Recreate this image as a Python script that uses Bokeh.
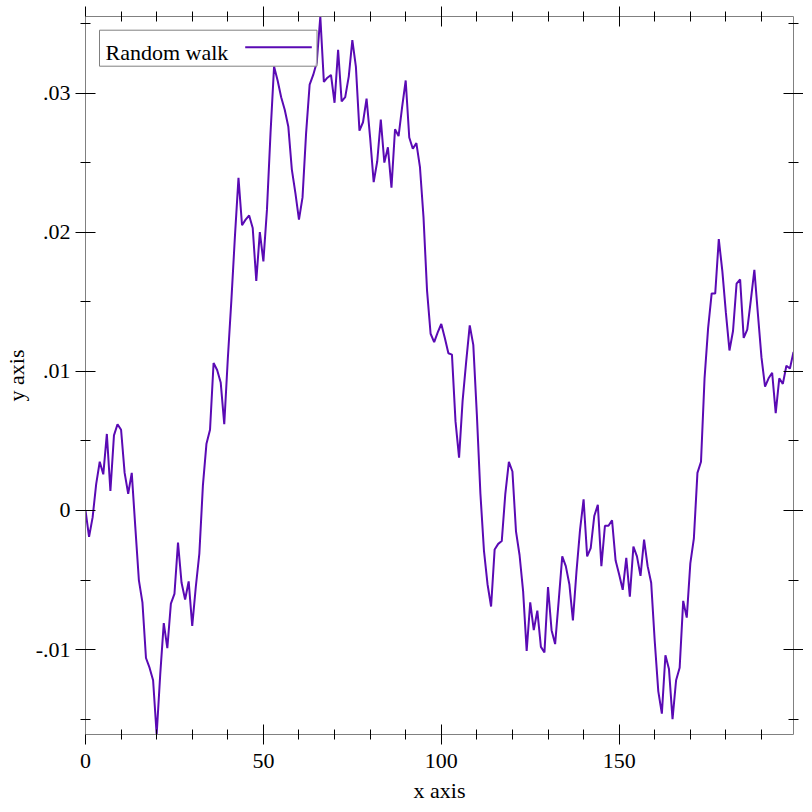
from bokeh.plotting import figure
from bokeh.models import (Range1d, LinearAxis, FixedTicker, CustomJSTickFormatter,
                          BoxAnnotation, Label, Arrow)
from bokeh.embed import file_html
from bokeh.resources import INLINE

# ---- data ----
steps = list(range(200))
walk = [
    0.0000, -0.0019, -0.0005, 0.0019, 0.0035, 0.0026, 0.0055, 0.0014, 0.0054, 0.0062,
    0.0058, 0.0027, 0.0012, 0.0027, -0.0012, -0.0050, -0.0066, -0.0106, -0.0113, -0.0122,
    -0.0161, -0.0118, -0.0081, -0.0099, -0.0067, -0.0060, -0.0023, -0.0052, -0.0064, -0.0051,
    -0.0083, -0.0055, -0.0031, 0.0018, 0.0048, 0.0058, 0.0106, 0.0101, 0.0092, 0.0062,
    0.0109, 0.0151, 0.0197, 0.0239, 0.0205, 0.0209, 0.0212, 0.0203, 0.0165, 0.0200,
    0.0179, 0.0216, 0.0271, 0.0319, 0.0309, 0.0297, 0.0288, 0.0276, 0.0245, 0.0228,
    0.0209, 0.0225, 0.0271, 0.0306, 0.0313, 0.0322, 0.0355, 0.0308, 0.0311, 0.0313,
    0.0293, 0.0331, 0.0294, 0.0297, 0.0312, 0.0338, 0.0319, 0.0273, 0.0279, 0.0296,
    0.0268, 0.0236, 0.0251, 0.0281, 0.0250, 0.0261, 0.0232, 0.0274, 0.0269, 0.0290,
    0.0309, 0.0268, 0.0260, 0.0264, 0.0247, 0.0211, 0.0158, 0.0127, 0.0121, 0.0128,
    0.0134, 0.0124, 0.0113, 0.0112, 0.0064, 0.0038, 0.0079, 0.0107, 0.0133, 0.0119,
    0.0069, 0.0012, -0.0029, -0.0053, -0.0069, -0.0028, -0.0024, -0.0022, 0.0012, 0.0035,
    0.0028, -0.0015, -0.0032, -0.0058, -0.0101, -0.0066, -0.0086, -0.0072, -0.0098, -0.0102,
    -0.0055, -0.0086, -0.0096, -0.0065, -0.0033, -0.0040, -0.0053, -0.0079, -0.0044, -0.0014,
    0.0008, -0.0033, -0.0027, -0.0004, 0.0004, -0.0040, -0.0011, -0.0011, -0.0007, -0.0036,
    -0.0046, -0.0057, -0.0034, -0.0062, -0.0026, -0.0033, -0.0047, -0.0021, -0.0040, -0.0052,
    -0.0094, -0.0130, -0.0146, -0.0104, -0.0114, -0.0150, -0.0122, -0.0113, -0.0065, -0.0077,
    -0.0038, -0.0020, 0.0027, 0.0035, 0.0095, 0.0131, 0.0156, 0.0156, 0.0195, 0.0172,
    0.0142, 0.0115, 0.0129, 0.0163, 0.0166, 0.0124, 0.0130, 0.0151, 0.0173, 0.0141,
    0.0110, 0.0089, 0.0095, 0.0099, 0.0070, 0.0095, 0.0091, 0.0104, 0.0102, 0.0114,
]
x_major_ticks = [0, 50, 100, 150]
x_minor_ticks = [10, 20, 30, 40, 60, 70, 80, 90, 110, 120, 130, 140, 160, 170, 180, 190]
y_major_ticks = [-0.01, 0.0, 0.01, 0.02, 0.03]
y_minor_ticks = [-0.015, -0.005, 0.005, 0.015, 0.025, 0.035]
series_label = "Random walk"
x_title = "x axis"
y_title = "y axis"

LINE_COLOR = "#5a0ab4"
FONT = "Liberation Serif"
FSIZE = "22px"
FRAME_GRAY = "#808080"

x0, x1 = min(steps), max(steps)
y0, y1 = min(walk), max(walk)

p = figure(frame_width=708, frame_height=718, output_backend="svg", toolbar_location=None,
           x_range=Range1d(x0, x1), y_range=Range1d(y0, y1),
           x_axis_location=None, y_axis_location=None,
           min_border_left=78, min_border_right=10, min_border_top=16, min_border_bottom=70)
p.outline_line_color = None
p.background_fill_color = "white"
p.border_fill_color = "white"
for g in p.grid:
    g.visible = False

yfmt = CustomJSTickFormatter(code="""
if (Math.abs(tick) < 1e-12) { return "0"; }
let s = tick.toFixed(2);
return s.replace(/^(-?)0\\./, "$1.");
""")
blank = CustomJSTickFormatter(code="return '';")


def make_axis(major, minor, labels, fmt=None, standoff=5):
    kw = dict(
        ticker=FixedTicker(ticks=major, minor_ticks=minor),
        axis_line_color=FRAME_GRAY, axis_line_width=1,
        major_tick_line_color="black", minor_tick_line_color="black",
        major_tick_line_width=1, minor_tick_line_width=1,
        major_tick_in=10, major_tick_out=10,
        minor_tick_in=5, minor_tick_out=5,
        major_label_text_font=FONT,
        major_label_text_color="black",
        axis_label_text_font=FONT,
        axis_label_text_font_style="normal",
        axis_label_text_font_size=FSIZE,
        axis_label_text_color="black",
    )
    if labels:
        if fmt is not None:
            kw["formatter"] = fmt
        kw["major_label_standoff"] = standoff
        kw["major_label_text_font_size"] = FSIZE
    else:
        kw["formatter"] = blank
        kw["major_label_standoff"] = 0
        kw["major_label_text_font_size"] = "1px"
    return LinearAxis(**kw)


bottom = make_axis(x_major_ticks, x_minor_ticks, True, standoff=9)
bottom.axis_label = x_title
bottom.axis_label_standoff = 7
top = make_axis(x_major_ticks, x_minor_ticks, False)
left = make_axis(y_major_ticks, y_minor_ticks, True, fmt=yfmt, standoff=5)
left.axis_label = y_title
left.axis_label_standoff = 4
right = make_axis(y_major_ticks, y_minor_ticks, False)

p.add_layout(bottom, "below")
p.add_layout(top, "above")
p.add_layout(left, "left")
p.add_layout(right, "right")

p.line(steps, walk, line_color=LINE_COLOR, line_width=2)

# ---- legend (text left, sample line right, as in the reference) ----
FL, FR, FT, FB = 86.0, 794.0, 16.0, 734.0


def lx(px):
    return x0 + (px - FL) / (FR - FL) * (x1 - x0)


def ly(py):
    return y1 - (py - FT) / (FB - FT) * (y1 - y0)


p.add_layout(BoxAnnotation(left=lx(100), right=lx(317.5), top=ly(29.7), bottom=ly(65.7),
                           fill_color="white", fill_alpha=0.8,
                           line_color=FRAME_GRAY, line_width=1, line_alpha=1.0))
p.add_layout(Label(x=lx(106), y=ly(52), text=series_label, text_font=FONT,
                   text_font_size=FSIZE, text_color="black",
                   text_align="left", text_baseline="alphabetic"))
p.add_layout(Arrow(x_start=lx(245.7), y_start=ly(46.7), x_end=lx(312.3), y_end=ly(46.7),
                   start=None, end=None, line_color=LINE_COLOR, line_width=2))

open("out.html", "w").write(file_html(p, INLINE))
